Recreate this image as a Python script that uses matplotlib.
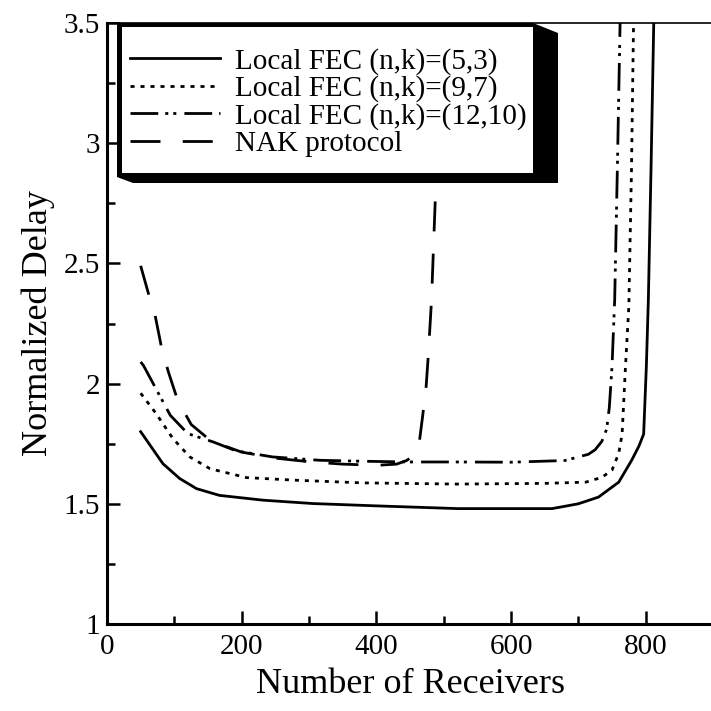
import matplotlib
matplotlib.use("Agg")
import matplotlib.pyplot as plt
from matplotlib.patches import Polygon, Rectangle
from matplotlib.ticker import MultipleLocator

plt.rcParams['font.family'] = ['Liberation Serif', 'DejaVu Serif']
plt.rcParams['lines.scale_dashes'] = False

# Normalized delay vs number of receivers
x_fec53 = [50, 83, 108, 133, 167, 232, 306, 404, 521, 661, 700, 730, 760, 779, 790, 797, 801, 804, 808, 812]
y_fec53 = [1.80, 1.667, 1.605, 1.563, 1.535, 1.515, 1.501, 1.491, 1.48, 1.48, 1.50, 1.528, 1.59, 1.68, 1.74, 1.79, 2.07, 2.35, 2.9, 3.5]

x_fec97 = [50, 73, 98, 123, 153, 207, 281, 380, 521, 650, 711, 735, 750, 760, 765, 770, 775, 779, 782]
y_fec97 = [1.96, 1.875, 1.771, 1.695, 1.646, 1.609, 1.598, 1.587, 1.582, 1.585, 1.59, 1.61, 1.64, 1.71, 1.79, 2.07, 2.32, 2.9, 3.5]

x_fec1210 = [50, 54, 94, 120, 158, 192, 246, 316, 380, 450, 521, 600, 680, 715, 725, 735, 742, 746, 750, 754, 758, 762]
y_fec1210 = [2.09, 2.076, 1.868, 1.792, 1.757, 1.72, 1.695, 1.681, 1.677, 1.674, 1.674, 1.673, 1.68, 1.706, 1.725, 1.76, 1.81, 1.9, 2.07, 2.35, 2.9, 3.5]

x_nak = [50, 62, 71, 81, 91, 105, 125, 155, 200, 250, 300, 350, 400, 430, 445, 455, 464, 469, 474, 477, 482, 488, 495]
y_nak = [2.49, 2.37, 2.29, 2.15, 2.05, 1.93, 1.83, 1.76, 1.715, 1.69, 1.675, 1.665, 1.66, 1.665, 1.68, 1.70, 1.76, 1.87, 1.99, 2.11, 2.35, 2.8, 3.5]

labels = ["Local FEC (n,k)=(5,3)", "Local FEC (n,k)=(9,7)",
          "Local FEC (n,k)=(12,10)", "NAK protocol"]

W = H = 711
AX_L, AX_R, AX_T, AX_B = 107, 713, 23, 624


def px2ax(px, py):
    return ((px - AX_L) / (AX_R - AX_L), (AX_B - py) / (AX_B - AX_T))


fig = plt.figure(figsize=(W / 100, H / 100), dpi=100)
ax = fig.add_axes([AX_L / W, 1 - AX_B / H, (AX_R - AX_L) / W, (AX_B - AX_T) / H])

lw = 2.0
styles = [
    dict(linestyle='-'),
    dict(linestyle=(0, (2.9, 4.3))),
    dict(linestyle=(0, (20, 5, 2.2, 3.6, 2.2, 5.8))),
    dict(linestyle=(0, (21.6, 16))),
]
series = [(x_fec53, y_fec53), (x_fec97, y_fec97), (x_fec1210, y_fec1210), (x_nak, y_nak)]
handles = []
for (xs, ys), st, lab in zip(series, styles, labels):
    ln, = ax.plot(xs, ys, color='black', lw=lw, label=lab, zorder=2, **st)
    handles.append(ln)

ax.set_xlim(0, 900)
ax.set_ylim(1, 3.5)
ax.xaxis.set_major_locator(MultipleLocator(200))
ax.xaxis.set_minor_locator(MultipleLocator(100))
ax.yaxis.set_minor_locator(MultipleLocator(0.25))
ax.set_yticks([1, 1.5, 2, 2.5, 3, 3.5])
ax.set_yticklabels(['1', '1.5', '2', '2.5', '3', '3.5'])

ax.tick_params(which='both', direction='in', width=1.8, labelsize=21,
               top=False, right=False)
ax.tick_params(which='major', length=9.5, pad=5)
ax.tick_params(which='minor', length=5.5)
ax.tick_params(axis='x', pad=7)

for side in ['left', 'bottom']:
    ax.spines[side].set_linewidth(2.2)
ax.spines['top'].set_linewidth(1.2)
ax.spines['right'].set_linewidth(1.2)

ax.set_xlabel('Number of Receivers', fontsize=26, labelpad=6)
ax.set_ylabel('Normalized Delay', fontsize=26, labelpad=6)

# legend box with a heavy black drop shadow
shadow = Polygon([px2ax(117, 23), px2ax(533, 23), px2ax(558, 33), px2ax(558, 183),
                  px2ax(133, 183), px2ax(117, 177)],
                 closed=True, transform=ax.transAxes, facecolor='black',
                 edgecolor='black', lw=0, zorder=5, clip_on=False)
ax.add_patch(shadow)
x0, y0 = px2ax(122, 173)
x1, y1 = px2ax(533, 27)
ax.add_patch(Rectangle((x0, y0), x1 - x0, y1 - y0, transform=ax.transAxes,
                       facecolor='white', edgecolor='none', zorder=6, clip_on=False))

leg = ax.legend(handles=handles, labels=labels, loc='upper left',
                bbox_to_anchor=px2ax(130, 48), frameon=False, fontsize=21,
                handlelength=3.1, handletextpad=0.5, labelspacing=0.02,
                borderpad=0, borderaxespad=0)
leg.set_zorder(7)

fig.savefig('out.png', dpi=100)
